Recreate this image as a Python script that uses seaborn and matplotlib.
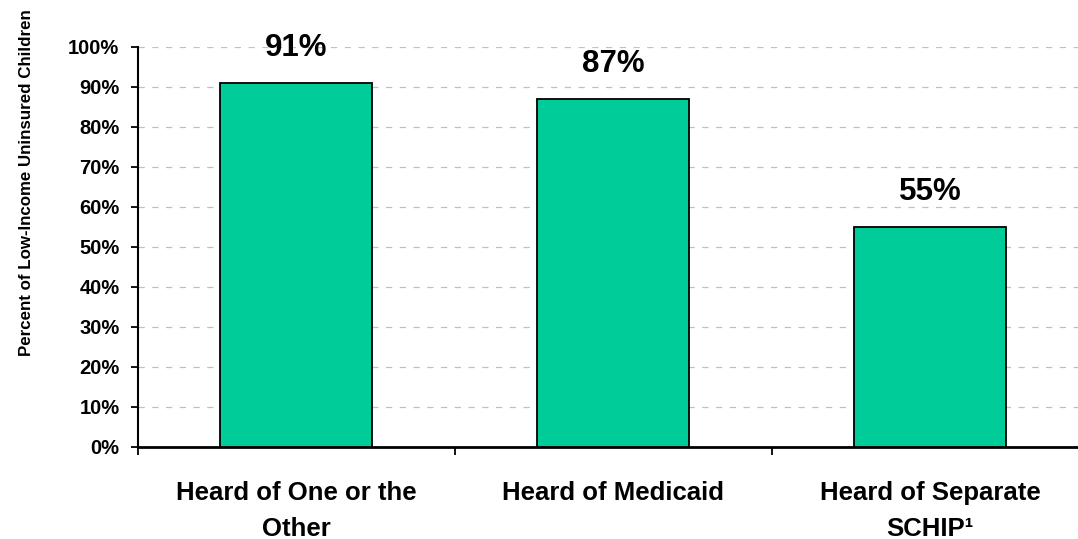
import matplotlib
matplotlib.use("Agg")
import matplotlib.pyplot as plt
from matplotlib.ticker import MultipleLocator, FixedLocator, PercentFormatter
import seaborn as sns
import pandas as pd

categories = ["Heard of One or the\nOther", "Heard of Medicaid", "Heard of Separate\nSCHIP\u00b9"]
values = [91, 87, 55]
value_labels = ["91%", "87%", "55%"]
y_label = "Percent of Low-Income Uninsured Children"

sns.set_theme(style="white")
plt.rcParams['font.family'] = ['Liberation Sans', 'DejaVu Sans']
plt.rcParams['font.weight'] = 'bold'
plt.rcParams['text.color'] = 'black'
plt.rcParams['axes.labelcolor'] = 'black'
plt.rcParams['xtick.color'] = 'black'
plt.rcParams['ytick.color'] = 'black'

df = pd.DataFrame({"category": categories, "value": values})

fig = plt.figure(figsize=(10.78, 5.39), dpi=100)
ax = fig.add_axes([137.5/1078, (539-446.7)/539, 951/1078, 400/539])

sns.barplot(data=df, x="category", y="value", color="#00CC99", saturation=1,
            width=0.48, edgecolor="black", linewidth=1.3, ax=ax, zorder=3)

ax.set_xlim(-0.5, 2.5)
ax.set_ylim(0, 100)
ax.yaxis.set_major_locator(MultipleLocator(10))
ax.yaxis.set_major_formatter(PercentFormatter(decimals=0))
ax.grid(axis="y", color="#c0c0c0", linestyle=(0, (5, 6)), linewidth=0.9, zorder=0)
ax.set_axisbelow(True)

for s in ["top", "right"]:
    ax.spines[s].set_visible(False)
ax.spines["left"].set_color("black")
ax.spines["left"].set_linewidth(1.5)
ax.spines["bottom"].set_color("black")
ax.spines["bottom"].set_linewidth(2)

ax.tick_params(axis="y", which="major", direction="out", length=5, width=1.3,
               color="black", labelsize=14.5, labelcolor="black", pad=8, left=True)
ax.tick_params(axis="x", which="major", length=0, labelsize=18.5, labelcolor="black", pad=25)
ax.xaxis.set_minor_locator(FixedLocator([-0.5, 0.5, 1.5]))
ax.tick_params(axis="x", which="minor", direction="out", length=6, width=1.3,
               color="black", bottom=True)
for lab in ax.get_xticklabels():
    lab.set_fontweight("bold")
    lab.set_linespacing(1.6)
for lab in ax.get_yticklabels():
    lab.set_fontweight("bold")

ax.set_xlabel("")
ax.set_ylabel(y_label, fontsize=12.2, fontweight="bold", color="black")
ax.yaxis.set_label_coords(-0.109, 0.659)

for i, (v, t) in enumerate(zip(values, value_labels)):
    ax.annotate(t, xy=(i, v), xytext=(0, 14), textcoords="offset points",
                ha="center", va="bottom", fontsize=22.5, fontweight="bold",
                color="black", annotation_clip=False)

fig.savefig("out.png", dpi=100)
